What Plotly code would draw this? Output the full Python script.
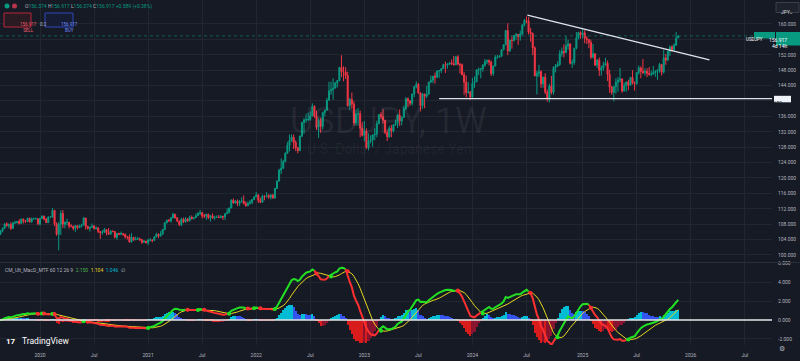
import numpy as np
import pandas as pd
import plotly.graph_objects as go

# ---------------- data (weekly USDJPY) ----------------
symbol = "USDJPY"
interval = "1W"
description = "U.S. Dollar / Japanese Yen"
first_bar = "2019-08-26"
first_open = 105.4

close_2019 = [106.3, 106.9, 108.1, 107.6, 107.9, 106.9, 108.3, 108.4, 108.7, 108.2, 109.3, 108.8, 108.7, 109.5, 108.6, 109.4, 109.4, 109.4, 108.1]
high_2019 = [106.5, 107.2, 108.2, 108.5, 108.2, 108.5, 108.6, 108.9, 108.8, 109.3, 109.5, 109.5, 109.1, 109.7, 109.7, 109.7, 109.7, 109.7, 109.6]
low_2019 = [105.2, 105.9, 106.8, 107.4, 106.9, 106.5, 106.8, 108.1, 108.2, 107.9, 108.2, 108.2, 108.3, 108.7, 108.4, 108.4, 109.2, 109.3, 107.8]

close_2020 = [109.5, 110.1, 109.3, 108.4, 109.8, 109.8, 111.6, 108.1, 105.4, 108.0, 110.8, 108.0, 108.5,
              108.5, 107.5, 107.5, 106.9, 107.6, 107.1, 107.6, 107.8, 109.6, 107.4, 106.9, 107.2, 107.5,
              106.9, 107.0, 106.1, 105.8, 105.9, 106.6, 105.8, 105.4, 106.2, 106.1, 104.6, 105.6, 105.3,
              105.6, 105.4, 104.7, 104.7, 103.4, 104.6, 103.9, 104.1, 104.2, 104.0, 103.3, 103.6, 103.2]
high_2020 = [109.7, 110.3, 110.2, 109.6, 110.1, 110.1, 112.2, 111.7, 108.5, 108.6, 111.6, 111.7, 108.7,
             109.4, 108.6, 108.0, 107.5, 107.8, 107.8, 107.9, 108.1, 109.9, 109.6, 107.6, 107.4, 108.2,
             107.8, 107.4, 107.3, 106.2, 106.5, 107.0, 106.6, 107.0, 106.5, 106.4, 106.2, 105.7, 105.8,
             106.1, 105.7, 105.5, 104.9, 105.3, 105.7, 104.6, 104.8, 104.7, 104.5, 104.1, 103.9, 103.7]
low_2020 = [107.6, 109.4, 109.0, 108.3, 108.3, 109.6, 109.7, 107.5, 105.0, 101.2, 105.2, 107.0, 106.9,
            107.7, 106.9, 107.2, 106.4, 106.0, 106.6, 107.1, 107.1, 107.6, 106.6, 106.6, 106.1, 107.1,
            106.6, 106.6, 105.7, 104.2, 105.3, 105.8, 105.1, 105.2, 105.3, 105.9, 104.3, 104.0, 105.2,
            105.3, 104.9, 104.3, 104.0, 103.2, 103.2, 103.7, 103.9, 103.9, 103.6, 102.9, 103.2, 102.96]

close_2021 = [103.9, 103.9, 103.8, 104.7, 105.4, 104.9, 105.4, 106.6, 108.3, 109.0, 108.9, 109.6, 110.6,
              109.7, 108.8, 107.9, 109.3, 108.6, 109.4, 108.9, 109.8, 109.5, 109.7, 110.2, 110.8, 111.0,
              110.1, 110.1, 110.6, 109.7, 110.2, 109.6, 109.8, 109.8, 109.7, 110.0, 109.9, 110.7, 111.1,
              112.2, 114.2, 113.5, 114.0, 113.4, 113.9, 114.0, 113.4, 112.8, 113.4, 113.7, 114.4, 115.1]
high_2021 = [104.1, 104.4, 104.1, 104.9, 105.8, 105.6, 106.2, 106.7, 108.6, 109.2, 109.4, 109.9, 110.97,
             110.6, 109.8, 108.9, 109.7, 109.7, 109.8, 109.6, 110.2, 110.3, 109.8, 110.8, 111.1, 111.7,
             111.1, 110.7, 110.6, 110.6, 110.4, 110.8, 110.2, 110.3, 110.4, 110.4, 110.2, 110.8, 112.1,
             112.3, 114.5, 114.7, 114.3, 114.4, 114.3, 115.0, 115.5, 113.9, 113.9, 114.3, 114.5, 115.2]
low_2021 = [102.6, 103.5, 103.3, 103.6, 104.6, 104.4, 104.9, 105.2, 106.4, 108.3, 108.6, 108.4, 109.6,
            109.4, 108.6, 107.5, 107.5, 108.3, 108.4, 108.6, 108.7, 109.2, 109.2, 109.6, 110.1, 110.4,
            109.5, 109.6, 109.1, 109.3, 108.7, 109.4, 109.1, 109.6, 109.6, 109.6, 109.1, 109.1, 110.6,
            110.8, 112.1, 113.4, 113.3, 112.7, 112.7, 113.6, 113.1, 112.5, 112.7, 113.1, 113.2, 114.3]

close_2022 = [115.6, 114.2, 113.7, 115.3, 115.2, 115.4, 115.0, 115.6, 114.8, 117.3, 119.2, 122.0, 122.5,
              124.3, 126.4, 128.5, 129.7, 130.6, 129.2, 127.9, 127.1, 130.9, 134.4, 135.0, 135.2, 135.2,
              136.1, 138.6, 136.1, 133.2, 135.0, 133.4, 137.0, 137.6, 140.2, 142.6, 142.9, 143.3, 144.7,
              145.3, 148.7, 147.6, 147.5, 146.6, 138.8, 140.4, 139.2, 134.3, 136.6, 136.7, 132.9, 131.1]
high_2022 = [116.35, 115.8, 114.9, 115.7, 115.5, 116.3, 115.8, 115.8, 115.8, 117.4, 119.4, 122.4, 125.1,
             124.7, 126.7, 129.4, 131.3, 131.3, 131.3, 129.8, 128.0, 131.0, 134.6, 135.6, 136.7, 137.0,
             137.3, 139.4, 138.9, 137.5, 135.6, 135.6, 137.2, 137.7, 140.8, 144.99, 145.0, 145.9, 144.9,
             145.4, 148.9, 151.9, 149.0, 148.8, 147.6, 140.8, 142.2, 139.9, 137.8, 138.2, 137.5, 134.5]
low_2022 = [115.0, 113.5, 113.5, 113.5, 114.2, 114.9, 114.6, 114.4, 114.6, 114.6, 117.2, 119.1, 121.0,
            122.4, 124.1, 126.3, 126.9, 129.4, 127.5, 127.0, 126.4, 127.0, 130.6, 131.5, 134.3, 134.8,
            134.9, 136.0, 135.6, 132.5, 130.4, 131.7, 132.6, 136.0, 137.5, 140.1, 141.6, 140.3, 143.3,
            143.5, 145.1, 146.2, 145.1, 145.7, 138.5, 137.7, 138.0, 133.6, 133.6, 133.6, 130.6, 130.8]

close_2023 = [132.1, 127.9, 129.6, 129.9, 131.2, 131.4, 134.1, 136.5, 135.9, 135.0, 131.8, 130.7, 132.9,
              132.2, 133.8, 134.2, 136.3, 134.8, 135.7, 138.0, 140.6, 140.0, 139.4, 141.8, 143.7, 144.3,
              142.1, 138.8, 141.8, 141.2, 141.8, 144.9, 145.4, 146.4, 146.2, 147.8, 147.9, 148.4, 149.4,
              149.3, 149.6, 149.9, 149.7, 149.4, 151.5, 149.6, 149.4, 146.8, 144.9, 142.2, 142.4, 141.0]
high_2023 = [134.8, 132.9, 131.6, 131.1, 131.2, 132.9, 134.9, 136.5, 137.1, 137.9, 135.1, 132.6, 133.5,
             133.8, 134.0, 135.1, 136.6, 137.8, 136.0, 138.8, 141.0, 140.9, 140.2, 141.9, 143.9, 145.1,
             144.7, 142.2, 142.1, 141.9, 143.9, 145.0, 146.6, 146.6, 147.4, 147.9, 147.9, 148.5, 149.7,
             150.2, 149.8, 150.1, 150.8, 151.7, 151.6, 151.9, 149.8, 149.7, 147.5, 146.6, 144.9, 142.6]
low_2023 = [129.5, 127.5, 127.2, 129.0, 128.1, 129.8, 130.6, 133.9, 135.3, 134.1, 131.4, 129.6, 130.4,
            130.6, 131.8, 133.6, 133.0, 133.5, 133.7, 135.6, 137.6, 138.4, 138.8, 138.8, 141.0, 143.3,
            141.9, 137.3, 138.0, 138.1, 140.7, 141.6, 144.6, 144.6, 144.5, 145.9, 146.0, 147.3, 148.3,
            147.3, 148.4, 149.3, 149.3, 149.2, 149.3, 149.2, 147.1, 146.7, 141.6, 140.95, 141.9, 140.25]

close_2024 = [144.6, 145.0, 148.1, 148.2, 148.4, 149.3, 150.2, 150.5, 150.1, 147.1, 149.1, 151.4, 151.4,
              151.6, 153.3, 154.6, 158.3, 153.0, 155.8, 155.7, 157.0, 157.3, 156.7, 157.4, 159.8, 160.9,
              160.8, 157.9, 157.5, 153.8, 146.5, 147.2, 147.6, 144.4, 146.2, 142.3, 140.8, 143.9, 142.2,
              148.7, 149.1, 149.5, 152.3, 152.9, 152.6, 154.3, 154.8, 149.8, 150.0, 153.7, 156.4, 157.8, 157.2]
high_2024 = [145.98, 146.4, 148.3, 148.7, 148.6, 149.6, 150.9, 150.8, 150.8, 150.5, 149.2, 151.9, 151.97,
             151.9, 153.4, 154.7, 158.4, 160.2, 155.9, 156.8, 157.2, 157.7, 157.3, 158.3, 159.9, 161.3,
             161.95, 161.8, 159.0, 157.8, 154.2, 147.9, 149.4, 148.0, 146.3, 147.2, 143.0, 144.5, 146.5,
             149.0, 149.6, 150.3, 153.2, 153.9, 154.7, 156.8, 155.9, 155.0, 150.8, 153.8, 157.9, 158.0, 158.1]
low_2024 = [140.8, 143.4, 144.9, 146.7, 145.9, 147.6, 148.9, 149.6, 149.2, 146.5, 146.5, 149.0, 151.0,
            151.2, 151.4, 153.2, 154.5, 151.9, 152.8, 153.6, 155.4, 155.9, 154.6, 155.7, 157.1, 159.3,
            160.2, 157.3, 155.4, 151.9, 146.5, 141.7, 146.2, 143.4, 143.4, 141.8, 139.8, 139.6, 141.7,
            141.6, 147.4, 148.8, 149.1, 151.5, 151.3, 152.4, 153.3, 149.5, 148.6, 149.4, 153.4, 156.0, 156.2]

close_2025 = [157.7, 156.3, 156.0, 155.2, 151.4, 152.3, 149.3, 150.6, 148.0, 148.6, 149.3, 149.8, 146.9,
              143.6, 142.2, 143.7, 144.9, 145.4, 145.7, 142.6, 144.0, 144.9, 144.1, 146.1, 144.6, 144.5,
              147.4, 148.6, 147.7, 147.4, 147.7, 147.2, 146.9, 147.0, 147.4, 147.7, 147.9, 149.5, 147.5,
              151.2, 150.6, 152.9, 154.0, 153.4, 154.5, 156.33, 156.917]
high_2025 = [158.9, 158.4, 156.8, 156.0, 155.9, 154.8, 152.4, 150.9, 151.3, 149.2, 150.2, 151.2, 150.5,
             148.1, 143.9, 144.0, 145.9, 146.2, 148.6, 145.9, 144.8, 145.1, 145.5, 146.3, 148.0, 145.1,
             147.5, 149.2, 149.0, 150.9, 148.5, 148.5, 148.8, 147.9, 149.1, 148.0, 148.3, 149.9, 149.6,
             153.3, 152.2, 153.1, 154.4, 154.5, 155.0, 157.9, 156.917]
low_2025 = [156.2, 154.97, 154.8, 153.7, 150.9, 151.0, 149.1, 148.6, 146.5, 146.6, 147.9, 149.2, 145.2,
            142.1, 141.6, 139.9, 141.9, 142.4, 144.8, 142.1, 142.5, 142.4, 142.8, 143.9, 144.3, 142.7,
            144.2, 146.9, 145.9, 147.0, 146.6, 146.2, 146.6, 146.4, 146.8, 146.3, 145.5, 147.3, 146.6,
            147.1, 149.4, 150.5, 151.7, 152.8, 153.0, 154.3, 156.374]

last_open = 156.374
last_high = 156.917
last_low = 156.374
last_close = 156.917
last_change = 0.589
last_change_pct = 0.38
spread = 0.2
countdown = "4d 14h"

support_level = 140.602
support_start = "2023-09-11"
trend_start_date, trend_start_price = "2024-07-04", 162.3
trend_end_date, trend_end_price = "2026-03-09", 150.65

macd_fast, macd_slow, macd_signal_len = 12, 26, 9

price_ticks = list(range(100, 161, 4))
price_ticks_hidden = [140, 156]  # covered by the price labels in the reference
macd_ticks = [-2, 0, 2, 4, 6]
time_ticks = ["2020-01-06", "2020-07-06", "2021-01-04", "2021-07-05", "2022-01-03", "2022-07-04",
              "2023-01-02", "2023-07-03", "2024-01-01", "2024-07-01", "2025-01-06", "2025-07-07",
              "2026-01-05", "2026-07-06"]
time_labels = ["2020", "Jul", "2021", "Jul", "2022", "Jul", "2023", "Jul", "2024", "Jul", "2025", "Jul",
               "2026", "Jul"]

# ---------------- build series ----------------
closes = close_2019 + close_2020 + close_2021 + close_2022 + close_2023 + close_2024 + close_2025
highs = high_2019 + high_2020 + high_2021 + high_2022 + high_2023 + high_2024 + high_2025
lows = low_2019 + low_2020 + low_2021 + low_2022 + low_2023 + low_2024 + low_2025
n = len(closes)
dates = pd.date_range(first_bar, periods=n, freq="7D")
opens = [first_open] + closes[:-1]
opens[-1] = last_open
highs = list(np.maximum.reduce([highs, opens, closes]))
lows = list(np.minimum.reduce([lows, opens, closes]))

c = pd.Series(closes)
macd = (c.ewm(span=macd_fast, adjust=False).mean() - c.ewm(span=macd_slow, adjust=False).mean()).to_numpy()
signal = pd.Series(macd).rolling(macd_signal_len, min_periods=1).mean().to_numpy()
hist = macd - signal

# ---------------- geometry / style ----------------
W, H = 800, 361
ML, MR, MT, MB = 0, 28, 0, 16
PW, PH = W - ML - MR, H - MT - MB
PRICE_BOTTOM_PX = 262
MACD_TOP_PX = 263
ref_date, ref_px, px_per_week = pd.Timestamp("2020-01-06"), 40.0, 2.079
x_start = ref_date - pd.Timedelta(weeks=ref_px / px_per_week)
x_end = ref_date + pd.Timedelta(weeks=(PW - ref_px) / px_per_week)

BG = "#161a25"
GRID = "#222631"
TXT = "#b2b5be"
UP = "#089981"
DOWN = "#f23645"
FONT = "Roboto"


def fx(x):
    return x / PW


def fy(y):
    return 1 - y / PH


fig = go.Figure()

fig.add_trace(go.Candlestick(
    x=dates, open=opens, high=highs, low=lows, close=closes,
    increasing=dict(line=dict(color=UP, width=1), fillcolor=UP),
    decreasing=dict(line=dict(color=DOWN, width=1), fillcolor=DOWN),
    whiskerwidth=0, xaxis="x", yaxis="y", showlegend=False, hoverinfo="skip"))

# histogram colours (CM_Ult_MacD_MTF logic)
hcol = []
for i in range(n):
    prev = hist[i - 1] if i > 0 else hist[i]
    if hist[i] > 0 and hist[i] > prev:
        hcol.append("#00bcd4")
    elif hist[i] > 0 and hist[i] < prev:
        hcol.append("#3355ee")
    elif hist[i] <= 0 and hist[i] < prev:
        hcol.append("#d81c1c")
    elif hist[i] <= 0 and hist[i] > prev:
        hcol.append("#8a1430")
    else:
        hcol.append("#ffeb3b")

fig.add_trace(go.Bar(x=dates, y=hist, marker=dict(color=hcol, line=dict(width=0)),
                     width=7 * 24 * 3600 * 1000, xaxis="x", yaxis="y2", showlegend=False,
                     hoverinfo="skip"))

above = macd >= signal


def runs(mask):
    xs, ys = [], []
    i = 1
    while i < n:
        if mask[i]:
            j = i
            while j + 1 < n and mask[j + 1]:
                j += 1
            xs += list(dates[i - 1:j + 1]) + [None]
            ys += list(macd[i - 1:j + 1]) + [None]
            i = j + 1
        else:
            i += 1
    return xs, ys


fig.add_trace(go.Scatter(x=dates, y=signal, mode="lines", line=dict(color="#e8d820", width=1),
                         xaxis="x", yaxis="y2", showlegend=False, hoverinfo="skip"))
gx, gy = runs(above)
rx, ry = runs(~above)
fig.add_trace(go.Scatter(x=gx, y=gy, mode="lines", line=dict(color="#22e022", width=2),
                         xaxis="x", yaxis="y2", showlegend=False, hoverinfo="skip"))
fig.add_trace(go.Scatter(x=rx, y=ry, mode="lines", line=dict(color="#ff3030", width=2),
                         xaxis="x", yaxis="y2", showlegend=False, hoverinfo="skip"))
cx, cy, cc = [], [], []
for i in range(1, n):
    if above[i] != above[i - 1]:
        cx.append(dates[i])
        cy.append(signal[i])
        cc.append("#22e022" if above[i] else "#ff3030")
fig.add_trace(go.Scatter(x=cx, y=cy, mode="markers", marker=dict(color=cc, size=4),
                         xaxis="x", yaxis="y2", showlegend=False, hoverinfo="skip"))

shapes = []
annotations = []

# zero line of the indicator
shapes.append(dict(type="line", xref="paper", yref="y2", x0=0, x1=1, y0=0, y1=0,
                   line=dict(color="#e6e6e6", width=1.5)))
# last price dotted line
shapes.append(dict(type="line", xref="paper", yref="y", x0=0, x1=1, y0=last_close, y1=last_close,
                   line=dict(color="rgba(8,153,129,0.55)", width=1, dash="dot")))
# support line
shapes.append(dict(type="line", xref="x", yref="y", x0=support_start, x1=x_end, y0=support_level,
                   y1=support_level, line=dict(color="#e0e3eb", width=1.3)))
# trend line
shapes.append(dict(type="line", xref="x", yref="y", x0=trend_start_date, x1=trend_end_date,
                   y0=trend_start_price, y1=trend_end_price, line=dict(color="#e0e3eb", width=1.3)))
# pane separator
shapes.append(dict(type="line", xref="paper", yref="paper", x0=0, x1=W / PW, y0=fy(262.5), y1=fy(262.5),
                   line=dict(color="#2a2e39", width=1)))

# watermark
annotations.append(dict(xref="paper", yref="paper", x=fx(388), y=fy(121), text=f"{symbol}, {interval}",
                        showarrow=False, font=dict(family=FONT, size=36, color="rgba(255,255,255,0.06)")))
annotations.append(dict(xref="paper", yref="paper", x=fx(389), y=fy(149), text=description,
                        showarrow=False, font=dict(family=FONT, size=14, color="rgba(255,255,255,0.06)")))


def span(t, col):
    return f"<span style='color:{col}'>{t}</span>"


hdr = (span("O", TXT) + span(f"{last_open:.3f}", UP) + " " + span("H", TXT) + span(f"{last_high:.3f}", UP) + " "
       + span("L", TXT) + span(f"{last_low:.3f}", UP) + " " + span("C", TXT) + span(f"{last_close:.3f}", UP) + " "
       + span(f"+{last_change:.3f} (+{last_change_pct:.2f}%)", UP))
annotations.append(dict(xref="paper", yref="paper", x=fx(23), y=fy(6), xanchor="left", yanchor="middle",
                        text=hdr, showarrow=False, font=dict(family=FONT, size=5, color=TXT)))
shapes.append(dict(type="circle", xref="paper", yref="paper", x0=fx(4.5), x1=fx(9.5), y0=fy(3.5), y1=fy(8.5),
                   fillcolor="#089981", line=dict(width=0)))
shapes.append(dict(type="circle", xref="paper", yref="paper", x0=fx(12), x1=fx(17), y0=fy(3.5), y1=fy(8.5),
                   fillcolor="#b5344a", line=dict(width=0)))

# SELL / BUY boxes
shapes.append(dict(type="rect", xref="paper", yref="paper", x0=fx(4), x1=fx(31), y0=fy(13), y1=fy(27),
                   fillcolor="#2a1a22", line=dict(color="#b5263a", width=1)))
shapes.append(dict(type="rect", xref="paper", yref="paper", x0=fx(45), x1=fx(73), y0=fy(13), y1=fy(27),
                   fillcolor="#161c33", line=dict(color="#2f46b8", width=1)))
annotations.append(dict(xref="paper", yref="paper", x=fx(17.5), y=fy(20), text=f"{last_close:.3f}<br>SELL",
                        showarrow=False, font=dict(family=FONT, size=4.5, color="#f05a6a")))
annotations.append(dict(xref="paper", yref="paper", x=fx(59), y=fy(20), text=f"{last_close:.3f}<br>BUY",
                        showarrow=False, font=dict(family=FONT, size=4.5, color="#6f8cff")))
annotations.append(dict(xref="paper", yref="paper", x=fx(38), y=fy(20), text=f"{spread}",
                        showarrow=False, font=dict(family=FONT, size=4.5, color=TXT)))

# JPY selector
shapes.append(dict(type="rect", xref="paper", yref="paper", x0=fx(776), x1=fx(799), y0=fy(2.5), y1=fy(12.5),
                   fillcolor="#1e222d", line=dict(color="#434651", width=0.8)))
annotations.append(dict(xref="paper", yref="paper", x=fx(779), y=fy(7.5), xanchor="left", text="JPY",
                        showarrow=False, font=dict(family=FONT, size=5, color="#d1d4dc")))
annotations.append(dict(xref="paper", yref="paper", x=fx(795), y=fy(7.5), text="⌄",
                        showarrow=False, font=dict(family=FONT, size=5, color="#d1d4dc")))

# last price labels
shapes.append(dict(type="rect", xref="paper", yref="paper", x0=fx(754), x1=fx(775), y0=fy(32), y1=fy(38.5),
                   fillcolor=UP, line=dict(width=0)))
annotations.append(dict(xref="paper", yref="paper", x=fx(764.5), y=fy(35.3), text=symbol,
                        showarrow=False, font=dict(family=FONT, size=4.5, color="#ffffff")))
shapes.append(dict(type="rect", xref="paper", yref="paper", x0=fx(776), x1=fx(800), y0=fy(32), y1=fy(45.5),
                   fillcolor=UP, line=dict(width=0)))
annotations.append(dict(xref="paper", yref="paper", x=fx(788), y=fy(35.5), text=f"{last_close:.3f}",
                        showarrow=False, borderpad=0, font=dict(family=FONT, size=5, color="#ffffff")))
annotations.append(dict(xref="paper", yref="paper", x=fx(788), y=fy(41.8), text=countdown,
                        showarrow=False, borderpad=0, font=dict(family=FONT, size=5, color="#ffffff")))

# support label
shapes.append(dict(type="rect", xref="paper", yref="paper", x0=fx(774), x1=fx(791), y0=fy(95.8), y1=fy(102.3),
                   fillcolor="#f0f3fa", line=dict(width=0)))
annotations.append(dict(xref="paper", yref="paper", x=fx(782.5), y=fy(99), text=f"{support_level:.3f}",
                        showarrow=False, borderpad=0, font=dict(family=FONT, size=5, color="#131722")))

# indicator legend
leg = (span("CM_Ult_MacD_MTF 60 12 26 9", TXT) + "  " + span(f"{macd[-1]:.3f}", "#4caf50") + "  "
       + span(f"{signal[-1]:.3f}", "#e8d820") + "  " + span(f"{hist[-1]:.3f}", "#00bcd4") + "  " + span("∅", TXT))
annotations.append(dict(xref="paper", yref="paper", x=fx(3), y=fy(270), xanchor="left", yanchor="middle",
                        text=leg, showarrow=False, font=dict(family=FONT, size=5, color=TXT)))

# TradingView logo
annotations.append(dict(xref="paper", yref="paper", x=fx(4), y=fy(341), xanchor="left", yanchor="middle",
                        text="<b>17</b>", showarrow=False, font=dict(family=FONT, size=8, color="#ffffff")))
annotations.append(dict(xref="paper", yref="paper", x=fx(19.5), y=fy(341), xanchor="left", yanchor="middle",
                        text="TradingView", showarrow=False, font=dict(family=FONT, size=8.5, color="#ffffff")))
# settings icon
annotations.append(dict(xref="paper", yref="paper", x=fx(787), y=fy(355), text="⚙",
                        showarrow=False, font=dict(family="DejaVu Sans", size=7, color=TXT)))

fig.update_layout(
    width=W, height=H,
    margin=dict(l=ML, r=MR, t=MT, b=MB, autoexpand=False),
    paper_bgcolor=BG, plot_bgcolor=BG,
    font=dict(family=FONT, size=5, color=TXT),
    showlegend=False, bargap=0,
    xaxis=dict(type="date", range=[x_start, x_end], anchor="y2", tickvals=time_ticks, ticktext=time_labels,
               showgrid=True, gridcolor=GRID, gridwidth=1, zeroline=False, showline=False, ticks="",
               ticklabelstandoff=6, tickfont=dict(size=5, color=TXT), rangeslider=dict(visible=False),
               fixedrange=True),
    yaxis=dict(domain=[(PH - PRICE_BOTTOM_PX) / PH, 1], range=[98.18, 166.23], side="right",
               tickvals=price_ticks,
               ticktext=["" if v in price_ticks_hidden else f"{v:.3f}" for v in price_ticks],
               showgrid=True, gridcolor=GRID, zeroline=False, showline=False, ticks="", ticklabelstandoff=5,
               tickfont=dict(size=5, color=TXT)),
    yaxis2=dict(domain=[0, (PH - MACD_TOP_PX) / PH], range=[-2.66, 6.06], side="right",
                tickvals=macd_ticks, ticktext=[f"{v:.3f}" for v in macd_ticks], showgrid=True,
                gridcolor=GRID, zeroline=False, showline=False, ticks="", ticklabelstandoff=5,
                tickfont=dict(size=5, color=TXT)),
    shapes=shapes, annotations=annotations,
)

fig.write_html("out.html", config={"displayModeBar": False},
               post_script="document.body.style.margin='0';document.body.style.background='#161a25';")
